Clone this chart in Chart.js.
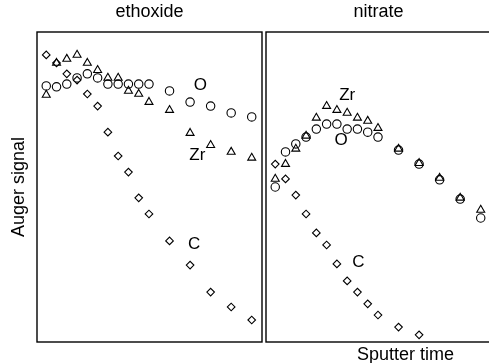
<!DOCTYPE html>
<html>
<head>
<meta charset="utf-8">
<script src="https://cdn.jsdelivr.net/npm/chart.js@4.4.1/dist/chart.umd.min.js"></script>
<style>
  html, body { margin: 0; padding: 0; background: #fff; overflow: hidden; width: 489px; height: 363px; }
  canvas { position: absolute; top: 0; }
  #left { left: 0; }
  #right { left: 264px; }
</style>
</head>
<body>
<canvas id="left" width="263" height="363"></canvas>
<canvas id="right" width="229" height="363"></canvas>
<script>
// ---- data (sputter time index, Auger signal in arbitrary units 0-100) ----
const panelTitles = ['ethoxide', 'nitrate'];
const seriesNames = ['C', 'O', 'Zr'];
const timeFull = [1, 2, 3, 4, 5, 6, 7, 8, 9, 10, 11, 13, 15, 17, 19, 21];
const timeShortC = [1, 2, 3, 4, 5, 6, 7, 8, 9, 10, 11, 13, 15];

const ethoxideC  = [92.6, 90.0, 86.5, 84.5, 80.0, 76.1, 67.7, 60.0, 54.8, 46.5, 41.3, 32.6, 24.8, 16.1, 11.3, 7.1];
const ethoxideO  = [82.6, 82.3, 83.2, 85.2, 86.5, 85.2, 83.2, 83.2, 83.2, 83.2, 83.2, 81.0, 77.4, 76.1, 73.9, 72.6];
const ethoxideZr = [79.7, 90.0, 91.3, 92.6, 90.0, 87.7, 85.2, 85.2, 81.0, 80.0, 77.4, 74.8, 67.4, 63.5, 61.3, 59.4];

const nitrateC  = [57.4, 52.6, 47.4, 41.3, 35.2, 31.3, 25.2, 19.7, 16.1, 12.3, 8.7, 4.8, 2.3];
const nitrateO  = [50.0, 61.3, 63.9, 66.1, 68.7, 70.3, 70.3, 68.7, 68.7, 67.7, 66.1, 61.9, 57.4, 52.3, 46.1, 40.0];
const nitrateZr = [52.6, 57.4, 62.3, 66.5, 72.3, 76.1, 74.8, 73.9, 72.3, 71.3, 69.0, 62.3, 57.7, 52.9, 46.5, 42.6];

// in-plot series labels (data coordinates)
const labelText = ['O', 'Zr', 'C'];
const ethoxideLabelX = [16.0, 15.7, 15.4];
const ethoxideLabelY = [82.9, 60.3, 31.6];
const nitrateLabelX = [7.4, 8.0, 9.1];
const nitrateLabelY = [65.2, 79.7, 25.6];

const yTitle = 'Auger signal';
const xTitle = 'Sputter time';

// ---- helpers ----
const FONT = '"Liberation Sans", Arial, Helvetica, sans-serif';
const pts = (xs, ys) => ys.map((y, i) => ({ x: xs[i], y }));
const styles = { C: 'rectRot', O: 'circle', Zr: 'triangle' };
const radii = { C: 3.8, O: 4.2, Zr: 4.6 };

function makeDatasets(c, o, zr, xC) {
  const vals = { C: pts(xC, c), O: pts(timeFull, o), Zr: pts(timeFull, zr) };
  return seriesNames.map(n => ({
    label: n,
    data: vals[n],
    showLine: false,
    pointStyle: styles[n],
    pointRadius: radii[n],
    pointHoverRadius: radii[n],
    pointBorderWidth: 1.1,
    borderColor: '#000',
    backgroundColor: 'rgba(0,0,0,0)',
    pointBackgroundColor: 'rgba(0,0,0,0)',
    pointBorderColor: '#000'
  }));
}

const framePlugin = {
  id: 'frameAndLabels',
  afterDatasetsDraw(chart, args, opts) {
    const { ctx, chartArea: a, scales } = chart;
    ctx.save();
    ctx.strokeStyle = '#000';
    ctx.lineWidth = 1.4;
    ctx.strokeRect(a.left, a.top, a.right - a.left, a.bottom - a.top);
    ctx.fillStyle = '#000';
    ctx.font = '17px ' + FONT;
    ctx.textAlign = 'center';
    ctx.textBaseline = 'middle';
    opts.text.forEach((t, i) => {
      ctx.fillText(t, scales.x.getPixelForValue(opts.xs[i]), scales.y.getPixelForValue(opts.ys[i]));
    });
    if (opts.xlab) {
      ctx.font = '18px ' + FONT;
      ctx.fillText(opts.xlab, a.left + (a.right - a.left) * 0.62, a.bottom + 13);
    }
    ctx.restore();
  }
};

function makeChart(id, title, datasets, labels, showY, padding) {
  return new Chart(document.getElementById(id), {
    type: 'scatter',
    data: { datasets },
    options: {
      responsive: false,
      animation: false,
      events: [],
      layout: { padding, autoPadding: false },
      plugins: {
        legend: { display: false },
        tooltip: { enabled: false },
        title: {
          display: true, text: title, fullSize: false, color: '#000',
          font: { family: FONT, size: 18, weight: 'normal' },
          padding: { top: 1.2, bottom: 9.2 }
        },
        frameAndLabels: labels
      },
      scales: {
        x: { type: 'linear', min: 0.1, max: 22, display: false },
        y: {
          type: 'linear', min: 0, max: 100, display: showY,
          grid: { display: false, drawTicks: false },
          border: { display: false },
          ticks: { display: false },
          title: {
            display: showY, text: yTitle, color: '#000',
            font: { family: FONT, size: 18, weight: 'normal' },
            padding: { top: 8.2, bottom: 7.2 }
          }
        }
      }
    },
    plugins: [framePlugin]
  });
}

makeChart('left', panelTitles[0],
  makeDatasets(ethoxideC, ethoxideO, ethoxideZr, timeFull),
  { text: labelText, xs: ethoxideLabelX, ys: ethoxideLabelY },
  true, { left: 0, right: 1, top: 0, bottom: 21 });

makeChart('right', panelTitles[1],
  makeDatasets(nitrateC, nitrateO, nitrateZr, timeShortC),
  { text: labelText, xs: nitrateLabelX, ys: nitrateLabelY, xlab: xTitle },
  false, { left: 2, right: 2, top: 0, bottom: 21 });
</script>
</body>
</html>
